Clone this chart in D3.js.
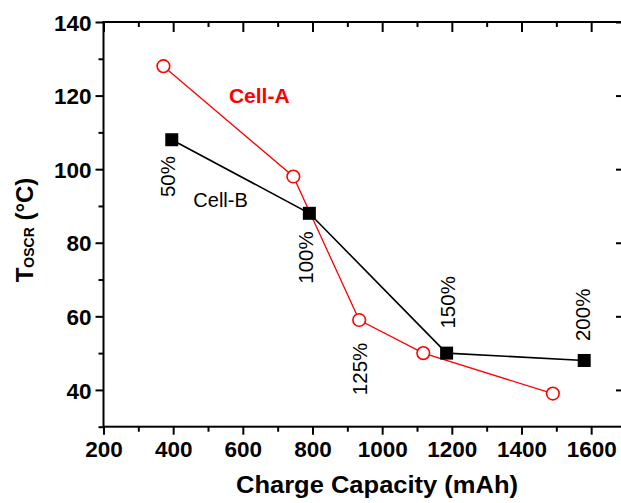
<!DOCTYPE html>
<html>
<head>
<meta charset="utf-8">
<script src="https://cdn.jsdelivr.net/npm/d3@7"></script>
<style>
  html, body { margin: 0; padding: 0; background: #fff; }
  svg { display: block; font-family: Arial, "Liberation Sans", sans-serif; }
</style>
</head>
<body>
<svg id="chart" width="621" height="503"></svg>
<script>
// ── Data ──────────────────────────────────────────────────────────────────
const cellA_cap  = [372, 745, 934, 1118, 1490];
const cellA_temp = [128, 98, 59, 50, 39];
const cellB_cap  = [396, 791, 1185, 1580];
const cellB_temp = [108, 88, 50, 48];

const xMajor = [200, 400, 600, 800, 1000, 1200, 1400, 1600];
const xMinor = [300, 500, 700, 900, 1100, 1300, 1500, 1700];
const yMajor = [40, 60, 80, 100, 120, 140];
const yMinor = [30, 50, 70, 90, 110, 130];

// rate labels, anchored in data space (capacity, temperature)
const rateText = ['50%', '100%', '125%', '150%', '200%'];
const rateCap  = [405, 801, 956, 1209, 1597];
const rateTemp = [98, 76, 45.7, 63.8, 60.4];

const svg = d3.select('#chart');

// Plot frame — right edge runs just past the picture
const x = d3.scaleLinear().domain([200, 1700]).range([103.5, 626]);
const y = d3.scaleLinear().domain([30, 140]).range([426.7, 22]);

const AX_W = 2;

function styleAxis(g) {
  g.select('.domain').remove();
  g.selectAll('line').attr('stroke', '#000').attr('stroke-width', AX_W);
  g.selectAll('text')
    .attr('font-family', 'Arial, "Liberation Sans", sans-serif')
    .attr('font-size', 22.5).attr('font-weight', 'bold').attr('fill', '#000');
}

// ── Bottom axis (outward ticks) ───────────────────────────────────────────
svg.append('g').attr('transform', `translate(0,${y(30)})`)
  .call(d3.axisBottom(x).tickValues(xMajor).tickSize(8).tickPadding(4).tickFormat(d3.format('d')))
  .call(styleAxis)
  .call(g => g.selectAll('text').attr('dy', '0.8em'));
svg.append('g').attr('transform', `translate(0,${y(30)})`)
  .call(d3.axisBottom(x).tickValues(xMinor).tickSize(5).tickFormat(''))
  .call(styleAxis);

// ── Top axis (inward ticks) ───────────────────────────────────────────────
svg.append('g').attr('transform', `translate(0,${y(140)})`)
  .call(d3.axisTop(x).tickValues(xMajor).tickSize(-10).tickFormat(''))
  .call(styleAxis);
svg.append('g').attr('transform', `translate(0,${y(140)})`)
  .call(d3.axisTop(x).tickValues(xMinor).tickSize(-5).tickFormat(''))
  .call(styleAxis);

// ── Left axis (outward ticks) ─────────────────────────────────────────────
svg.append('g').attr('transform', `translate(${x(200)},0)`)
  .call(d3.axisLeft(y).tickValues(yMajor).tickSize(8).tickPadding(4))
  .call(styleAxis)
  .call(g => g.selectAll('text').attr('dy', '0.36em'));
svg.append('g').attr('transform', `translate(${x(200)},0)`)
  .call(d3.axisLeft(y).tickValues(yMinor).tickSize(5).tickFormat(''))
  .call(styleAxis);

// ── Right axis (inward ticks) ─────────────────────────────────────────────
svg.append('g').attr('transform', `translate(${x(1700)},0)`)
  .call(d3.axisRight(y).tickValues(yMajor).tickSize(-10).tickFormat(''))
  .call(styleAxis);
svg.append('g').attr('transform', `translate(${x(1700)},0)`)
  .call(d3.axisRight(y).tickValues(yMinor).tickSize(-5).tickFormat(''))
  .call(styleAxis);

// frame lines
svg.append('rect')
  .attr('x', x(200)).attr('y', y(140))
  .attr('width', x(1700) - x(200)).attr('height', y(30) - y(140))
  .attr('fill', 'none').attr('stroke', '#000').attr('stroke-width', AX_W);

// ── Series ────────────────────────────────────────────────────────────────
const line = d3.line().x(d => x(d[0])).y(d => y(d[1]));
const cellA = d3.zip(cellA_cap, cellA_temp);
const cellB = d3.zip(cellB_cap, cellB_temp);

svg.append('path').datum(cellA)
  .attr('d', line).attr('fill', 'none')
  .attr('stroke', '#ff0000').attr('stroke-width', 1.3);

svg.append('path').datum(cellB)
  .attr('d', line).attr('fill', 'none')
  .attr('stroke', '#000').attr('stroke-width', 1.6);

svg.selectAll('.sq').data(cellB).enter()
  .append('rect').attr('class', 'sq')
  .attr('x', d => x(d[0]) - 6.5).attr('y', d => y(d[1]) - 6.5)
  .attr('width', 13).attr('height', 13)
  .attr('fill', '#000');

svg.selectAll('.circ').data(cellA).enter()
  .append('circle').attr('class', 'circ')
  .attr('cx', d => x(d[0])).attr('cy', d => y(d[1]))
  .attr('r', 6.3)
  .attr('fill', '#fff').attr('stroke', '#ff0000').attr('stroke-width', 1.6);

// ── Annotations ───────────────────────────────────────────────────────────
svg.append('text')
  .attr('x', x(560)).attr('y', y(118))
  .attr('font-size', 21).attr('font-weight', 'bold').attr('fill', '#ff0000')
  .text('Cell-A');

svg.append('text')
  .attr('x', x(458)).attr('y', y(89.8))
  .attr('font-size', 20).attr('fill', '#000')
  .text('Cell-B');

svg.selectAll('.rate').data(d3.zip(rateText, rateCap, rateTemp)).enter()
  .append('text').attr('class', 'rate')
  .attr('transform', d => `translate(${x(d[1])},${y(d[2])}) rotate(-90)`)
  .attr('text-anchor', 'middle')
  .attr('font-size', 20.5).attr('fill', '#000')
  .text(d => d[0]);

// ── Axis titles ───────────────────────────────────────────────────────────
svg.append('text')
  .attr('x', 377).attr('y', 493)
  .attr('text-anchor', 'middle')
  .attr('font-size', 23).attr('font-weight', 'bold')
  .attr('textLength', 282).attr('lengthAdjust', 'spacingAndGlyphs')
  .text('Charge Capacity (mAh)');

const yt = svg.append('text')
  .attr('transform', 'translate(33,230) rotate(-90)')
  .attr('text-anchor', 'middle')
  .attr('font-weight', 'bold').attr('font-size', 24);
yt.append('tspan').text('T');
yt.append('tspan').attr('font-size', 14).attr('dy', 1).text('OSCR');
yt.append('tspan').attr('dy', -1).text(' (\u00B0C)');
</script>
</body>
</html>
